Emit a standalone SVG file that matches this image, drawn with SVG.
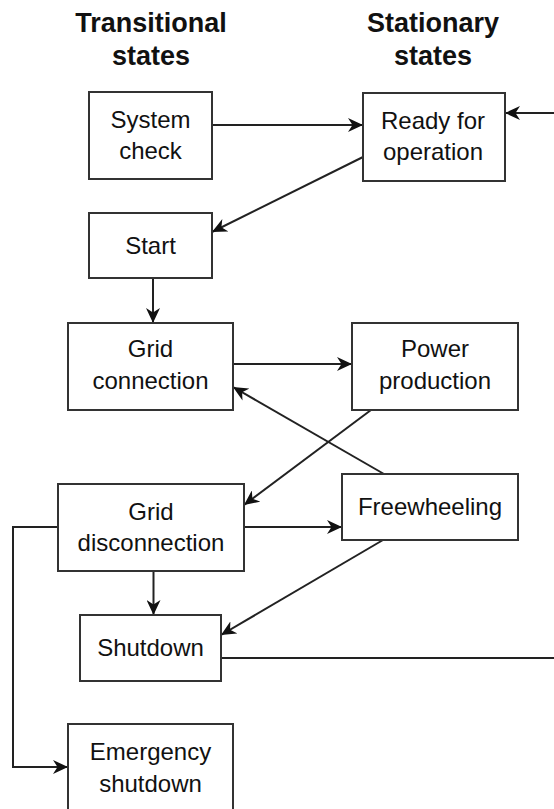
<svg xmlns="http://www.w3.org/2000/svg" width="554" height="809" viewBox="0 0 554 809">
<style>
.box{fill:#fff;stroke:#333;stroke-width:2}
.t{font-family:"Liberation Sans",Arial,Helvetica,sans-serif;font-size:24px;fill:#111;text-anchor:middle}
.h{font-family:"Liberation Sans",Arial,Helvetica,sans-serif;font-size:27px;font-weight:bold;fill:#111;text-anchor:middle}
.c{fill:none;stroke:#222;stroke-width:2}
</style>
<defs>
<marker id="arr" markerUnits="userSpaceOnUse" viewBox="0 0 15 14" markerWidth="15" markerHeight="14" refX="15" refY="7" orient="auto">
<path d="M0,0 L15,7 L0,14 L4.5,7 Z" fill="#111"/>
</marker>
</defs>
<rect width="554" height="809" fill="#fff"/>
<g id="headers">
<text class="h" x="151" y="32">Transitional</text>
<text class="h" x="151" y="65">states</text>
<text class="h" x="433" y="32">Stationary</text>
<text class="h" x="433" y="65">states</text>
</g>
<g id="connectors">
<line class="c" x1="212" y1="125" x2="363" y2="125" marker-end="url(#arr)"/>
<line class="c" x1="554" y1="113" x2="505" y2="113" marker-end="url(#arr)"/>
<line class="c" x1="363" y1="157" x2="212" y2="232" marker-end="url(#arr)"/>
<line class="c" x1="153" y1="278" x2="153" y2="323" marker-end="url(#arr)"/>
<line class="c" x1="233" y1="364" x2="352" y2="364" marker-end="url(#arr)"/>
<line class="c" x1="384" y1="474" x2="233" y2="387" marker-end="url(#arr)"/>
<line class="c" x1="371" y1="410" x2="244" y2="505" marker-end="url(#arr)"/>
<line class="c" x1="244" y1="527" x2="342" y2="527" marker-end="url(#arr)"/>
<line class="c" x1="153.5" y1="571" x2="153.5" y2="615" marker-end="url(#arr)"/>
<line class="c" x1="383" y1="540" x2="221" y2="635" marker-end="url(#arr)"/>
<line class="c" x1="221" y1="658" x2="554" y2="658"/>
<polyline class="c" points="58,527 13,527 13,767 68,767" marker-end="url(#arr)"/>
</g>
<g id="system-check">
<rect class="box" x="89" y="92" width="123" height="87"/>
<text class="t" x="150.5" y="128">System</text>
<text class="t" x="150.5" y="159">check</text>
</g>
<g id="ready-for-operation">
<rect class="box" x="363" y="93" width="142" height="88"/>
<text class="t" x="433" y="129">Ready for</text>
<text class="t" x="433" y="160">operation</text>
</g>
<g id="start">
<rect class="box" x="89" y="213" width="123" height="65"/>
<text class="t" x="150.5" y="253.5">Start</text>
</g>
<g id="grid-connection">
<rect class="box" x="68" y="323" width="165" height="87"/>
<text class="t" x="150.5" y="357">Grid</text>
<text class="t" x="150.5" y="389">connection</text>
</g>
<g id="power-production">
<rect class="box" x="352" y="323" width="166" height="87"/>
<text class="t" x="435" y="357">Power</text>
<text class="t" x="435" y="389">production</text>
</g>
<g id="grid-disconnection">
<rect class="box" x="58" y="484" width="186" height="87"/>
<text class="t" x="151" y="520">Grid</text>
<text class="t" x="151" y="551">disconnection</text>
</g>
<g id="freewheeling">
<rect class="box" x="342" y="474" width="176" height="66"/>
<text class="t" x="430" y="514.5">Freewheeling</text>
</g>
<g id="shutdown">
<rect class="box" x="80" y="615" width="141" height="66"/>
<text class="t" x="150.5" y="656">Shutdown</text>
</g>
<g id="emergency-shutdown">
<rect class="box" x="68" y="724" width="165" height="90"/>
<text class="t" x="150.5" y="760">Emergency</text>
<text class="t" x="150.5" y="791.5">shutdown</text>
</g>
</svg>
